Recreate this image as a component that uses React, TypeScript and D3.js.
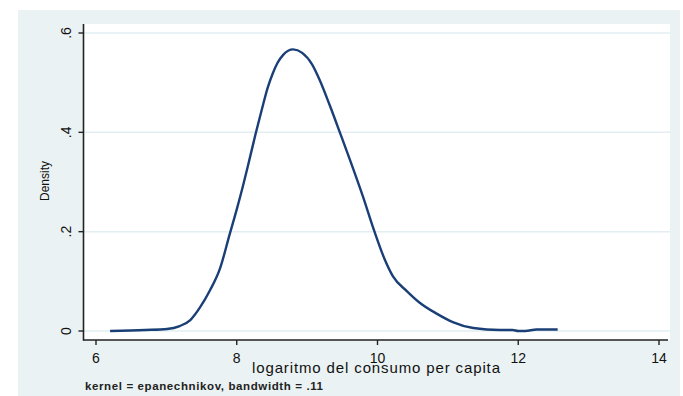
import React, { useRef, useEffect } from 'react';
import * as d3 from 'd3';

// kernel density estimate
const xs = [6.2, 6.7, 7.01, 7.19, 7.34, 7.48, 7.62, 7.76, 7.9, 8.0, 8.09, 8.18, 8.27, 8.36, 8.44, 8.51, 8.58, 8.66, 8.8, 8.93, 9.07, 9.18, 9.32, 9.47, 9.61, 9.79, 9.96, 10.1, 10.22, 10.42, 10.6, 10.84, 11.07, 11.36, 11.74, 11.92, 12.0, 12.1, 12.26, 12.56];
const density = [0.0, 0.002, 0.004, 0.01, 0.022, 0.048, 0.082, 0.125, 0.195, 0.245, 0.293, 0.345, 0.398, 0.448, 0.49, 0.518, 0.54, 0.556, 0.567, 0.56, 0.537, 0.505, 0.455, 0.398, 0.344, 0.272, 0.199, 0.145, 0.11, 0.08, 0.057, 0.035, 0.018, 0.006, 0.002, 0.002, 0.0, 0.0, 0.003, 0.003];
const xTicks = [6, 8, 10, 12, 14];
const yTicks = [0, 0.2, 0.4, 0.6];
const yTickLabels = ['0', '.2', '.4', '.6'];

const App = () => {
    const svgRef = useRef<SVGSVGElement>(null);

    useEffect(() => {
        const width = 683;
        const height = 396;
        const svg = d3.select(svgRef.current);
        svg.selectAll('*').remove();
        svg.attr('width', width).attr('height', height);

        const font = '"Liberation Sans", Arial, sans-serif';
        const x = d3.scaleLinear().domain([6, 14]).range([96, 659]);
        const y = d3.scaleLinear().domain([0, 0.6]).range([331, 33]);

        svg.append('rect').attr('width', width).attr('height', height).attr('fill', '#fff');
        svg.append('rect')
            .attr('x', 18).attr('y', 10).attr('width', 662).attr('height', 386)
            .attr('fill', '#eaf2f3');
        svg.append('rect')
            .attr('x', 84).attr('y', 24).attr('width', 586).attr('height', 316)
            .attr('fill', '#fff');

        // grid
        svg.append('g').selectAll('line')
            .data(yTicks)
            .enter()
            .append('line')
            .attr('x1', 84).attr('x2', 670)
            .attr('y1', d => y(d)).attr('y2', d => y(d))
            .attr('stroke', '#e2eef1')
            .attr('stroke-width', 1.5);

        // curve
        const line = d3.line<number>()
            .x((d, i) => x(xs[i]))
            .y(d => y(d))
            .curve(d3.curveMonotoneX);
        svg.append('path')
            .datum(density)
            .attr('d', line)
            .attr('fill', 'none')
            .attr('stroke', '#1a3f76')
            .attr('stroke-width', 2.4);

        // y axis
        const yAxis = svg.append('g').attr('transform', 'translate(83.5,0)');
        yAxis.append('line')
            .attr('x1', 0).attr('x2', 0).attr('y1', 24).attr('y2', 340.5)
            .attr('stroke', '#222').attr('stroke-width', 1.6);
        yAxis.selectAll('line.tick')
            .data(yTicks)
            .enter()
            .append('line')
            .attr('class', 'tick')
            .attr('x1', -5).attr('x2', 0)
            .attr('y1', d => y(d)).attr('y2', d => y(d))
            .attr('stroke', '#222').attr('stroke-width', 1.4);
        yAxis.selectAll('text')
            .data(yTicks)
            .enter()
            .append('text')
            .text((d, i) => yTickLabels[i])
            .attr('transform', d => `translate(-13,${y(d)}) rotate(-90)`)
            .style('text-anchor', 'middle')
            .style('font-family', font)
            .style('font-size', 14)
            .attr('fill', '#111');

        // x axis
        const xAxis = svg.append('g').attr('transform', 'translate(0,340)');
        xAxis.append('line')
            .attr('x1', 83).attr('x2', 668).attr('y1', 0).attr('y2', 0)
            .attr('stroke', '#222').attr('stroke-width', 1.6);
        xAxis.selectAll('line.tick')
            .data(xTicks)
            .enter()
            .append('line')
            .attr('class', 'tick')
            .attr('x1', d => x(d)).attr('x2', d => x(d))
            .attr('y1', 0).attr('y2', 5)
            .attr('stroke', '#222').attr('stroke-width', 1.4);
        xAxis.selectAll('text')
            .data(xTicks)
            .enter()
            .append('text')
            .text(d => d)
            .attr('x', d => x(d))
            .attr('y', 23)
            .style('text-anchor', 'middle')
            .style('font-family', font)
            .style('font-size', 14)
            .attr('fill', '#111');

        svg.append('text')
            .text('logaritmo del consumo per capita')
            .attr('x', 252).attr('y', 373)
            .attr('textLength', 248)
            .style('font-family', font)
            .style('font-size', 15)
            .attr('fill', '#111');

        svg.append('text')
            .text('Density')
            .attr('transform', 'translate(49,181) rotate(-90)')
            .style('text-anchor', 'middle')
            .style('font-family', font)
            .style('font-size', 12)
            .attr('fill', '#111');

        svg.append('text')
            .text('kernel = epanechnikov, bandwidth = .11')
            .attr('x', 85).attr('y', 390)
            .attr('textLength', 238)
            .style('font-family', font)
            .style('font-size', 11.5)
            .style('font-weight', 'bold')
            .attr('fill', '#222');
    }, []);

    return (
        <div style={{ position: 'fixed', left: 0, top: 0 }}>
            <svg ref={svgRef} style={{ display: 'block' }}></svg>
        </div>
    );
};

export default App;
